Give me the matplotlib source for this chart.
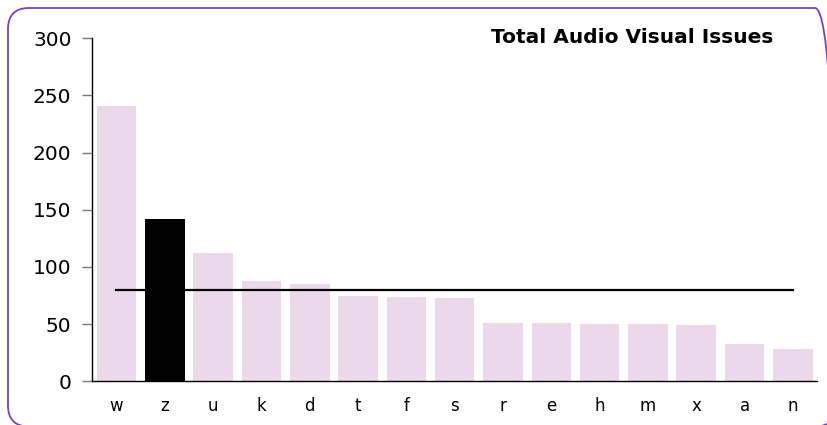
import matplotlib
matplotlib.use('Agg')
import matplotlib.pyplot as plt
from matplotlib.patches import FancyBboxPatch

# issue counts per site, sorted high to low
sites = ['w', 'z', 'u', 'k', 'd', 't', 'f', 's', 'r', 'e', 'h', 'm', 'x', 'a', 'n']
issues = [241, 142, 112, 88, 85, 75, 74, 73, 51, 51, 50, 50, 49, 33, 28]
highlight = 'z'
average = 80

bar_color = '#EBD9EB'
frame_color = '#7E3FBF'

plt.rcParams['font.family'] = 'DejaVu Sans'

fig = plt.figure(figsize=(8.27, 4.25), dpi=100)
ax = fig.add_axes([0.1116, 0.1028, 0.8764, 0.8071])

x = list(range(len(sites)))
colors = ['black' if s == highlight else bar_color for s in sites]
ax.bar(x, issues, width=0.82, color=colors, zorder=2)

# average line across all sites
ax.plot([x[0], x[-1]], [average, average], color='black', lw=1.6, zorder=3)

ax.set_xlim(-0.5, len(sites) - 0.5)
ax.set_ylim(0, 300)
ax.set_yticks(range(0, 301, 50))
ax.set_xticks(x)
ax.set_xticklabels(sites)

for side in ['top', 'right']:
    ax.spines[side].set_visible(False)
ax.spines['left'].set_linewidth(1.0)
ax.spines['bottom'].set_linewidth(1.0)

ax.tick_params(axis='y', length=7, width=1, color='#777777', labelsize=14.5, pad=8)
ax.tick_params(axis='x', length=0, labelsize=12, pad=11)

fig.text(0.935, 1 - 42.7 / 425, 'Total Audio Visual Issues', ha='right', va='baseline',
         fontsize=14.5, fontweight='bold')

# rounded outer frame (in inches), running past the right edge
r = 0.21
left, bottom, width, height = 0.08, -0.015, 8.28, 4.185
frame = FancyBboxPatch((left + r, bottom + r), width - 2 * r, height - 2 * r,
                       boxstyle=f'round,pad={r},rounding_size={r}',
                       transform=fig.dpi_scale_trans, fill=False,
                       edgecolor=frame_color, lw=1.3, clip_on=False)
fig.patches.append(frame)

fig.savefig('out.png', dpi=100)
